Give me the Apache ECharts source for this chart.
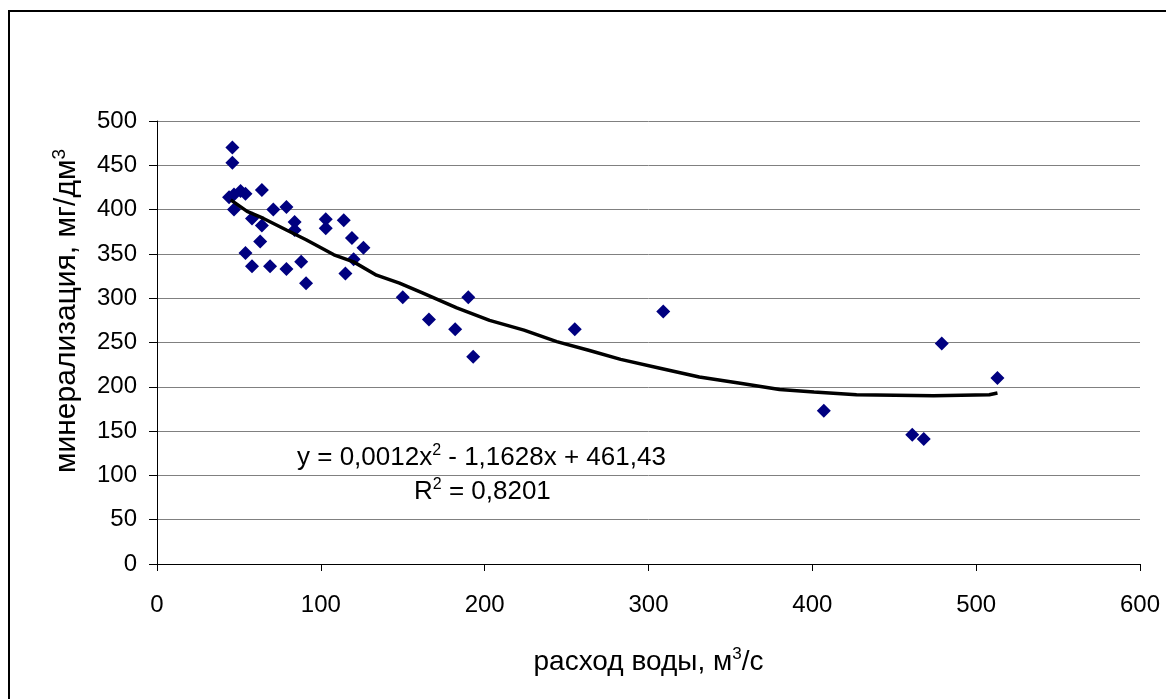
<!DOCTYPE html>
<html><head><meta charset="utf-8">
<script src="https://cdn.jsdelivr.net/npm/echarts@6/dist/echarts.min.js"></script>
<style>html,body{margin:0;padding:0;background:#fff}#c{width:1166px;height:699px}</style>
</head><body><div id="c"></div>
<script>
// observed points: water discharge (m3/s) and mineralization (mg/dm3)
const flowX = [46, 46, 44, 47, 51, 54, 47, 64, 58, 71, 79, 84, 84, 64, 63, 54, 58, 69, 79, 88, 91,
  103, 103, 114, 119, 126, 120, 115, 150, 166, 182, 190, 193, 255, 309, 407, 461, 468, 479, 513];
const mineralY = [470, 453, 414, 417, 421, 418, 400, 422, 390, 400, 403, 386, 377, 382, 364, 351, 336, 336, 333, 341, 317,
  389, 379, 388, 368, 357, 344, 328, 301, 276, 265, 301, 234, 265, 285, 173, 146, 141, 249, 210];
// trend line as drawn in the picture
const trendX = [45, 55, 65, 79, 91, 108, 120, 134, 148, 162, 183, 203, 224, 244, 264, 283, 307, 331, 356, 380, 401, 427, 474, 508, 513];
const trendY = [411, 398, 390, 377, 366, 349, 341, 326, 317, 306, 289, 275, 264, 251, 241, 231, 221, 211, 204, 197, 194, 191, 190, 191, 193];
const xTicks = [0, 600, 100];
const yTicks = [0, 500, 50];
const xTitle = ['расход воды, м', '3', '/с'];
const yTitle = ['минерализация, мг/дм', '3'];
const eqText = ['y = 0,0012x', '2', ' - 1,1628x + 461,43'];
const r2Text = ['R', '2', ' = 0,8201'];

const FONT = 'Liberation Sans, Arial, sans-serif';
const chart = echarts.init(document.getElementById('c'), null, {renderer: 'canvas'});
const supRich = (fs) => ({
  a: {fontSize: fs, fontFamily: FONT, color: '#000', lineHeight: fs + 4},
  s: {fontSize: Math.round(fs * 0.62), fontFamily: FONT, color: '#000', verticalAlign: 'top', lineHeight: fs + 4, padding: [0, 0, Math.round(fs*0.45), 0]}
});
const rt = (arr) => `{a|${arr[0]}}{s|${arr[1]}}` + (arr[2] ? `{a|${arr[2]}}` : '');

chart.setOption({
  animation: false,
  backgroundColor: '#fff',
  grid: {left: 157, right: 26, top: 121, bottom: 135, containLabel: false},
  xAxis: {
    type: 'value', min: xTicks[0], max: xTicks[1], interval: xTicks[2],
    axisLine: {show: true, onZero: false, lineStyle: {color: '#000', width: 1}},
    axisTick: {show: true, inside: false, length: 7, lineStyle: {color: '#000'}},
    axisLabel: {color: '#000', fontSize: 24, fontFamily: FONT, margin: 29},
    splitLine: {show: false},
    name: rt(xTitle), nameLocation: 'middle', nameGap: 82,
    nameTextStyle: {rich: supRich(28)}
  },
  yAxis: {
    type: 'value', min: yTicks[0], max: yTicks[1], interval: yTicks[2],
    axisLine: {show: true, lineStyle: {color: '#000', width: 1}},
    axisTick: {show: true, inside: false, length: 8, lineStyle: {color: '#000'}},
    axisLabel: {color: '#000', fontSize: 24, fontFamily: FONT, margin: 20},
    splitLine: {show: true, lineStyle: {color: '#808080', width: 1}}
  },
  series: [
    {
      type: 'scatter', symbol: 'diamond', symbolSize: 14,
      itemStyle: {color: '#000080', opacity: 1},
      data: flowX.map((x, i) => [x, mineralY[i]]),
      z: 3
    },
    {
      type: 'line', showSymbol: false, smooth: false,
      lineStyle: {color: '#000', width: 3.5},
      data: trendX.map((x, i) => [x, trendY[i]]),
      z: 4
    }
  ],
  graphic: [
    {type: 'rect', shape: {x: 9, y: 11, width: 1250, height: 800}, style: {fill: 'none', stroke: '#000', lineWidth: 2}, silent: true},
    {type: 'text', x: 67, y: 311, rotation: Math.PI / 2,
      style: {text: rt(yTitle), rich: supRich(30), align: 'center', verticalAlign: 'middle'}},
    {type: 'text', x: 297, y: 458,
      style: {text: rt(eqText), rich: supRich(26), align: 'left', verticalAlign: 'middle'}},
    {type: 'text', x: 414, y: 492,
      style: {text: rt(r2Text), rich: supRich(26), align: 'left', verticalAlign: 'middle'}}
  ]
});
</script></body></html>
